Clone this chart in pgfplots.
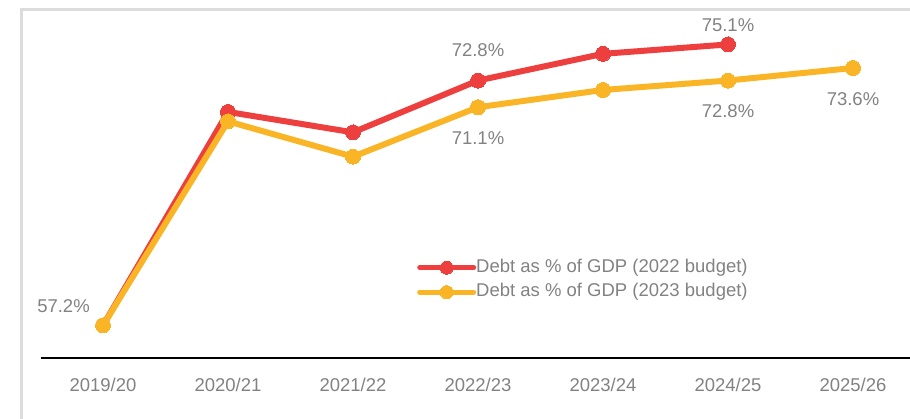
\documentclass[border=0pt]{standalone}
\usepackage{pgfplots}
\pgfplotsset{compat=1.18}
\usepackage{fontspec}
\setmainfont{Liberation Sans}
\definecolor{myred}{HTML}{EE3F3F}
\definecolor{myyellow}{HTML}{FAB526}
\definecolor{txtgray}{HTML}{828282}
\definecolor{framegray}{HTML}{DCDCDC}
\begin{document}
\begin{tikzpicture}[x=1pt,y=1pt]
\path[use as bounding box] (0,0) rectangle (910,419);
\clip (0,0) rectangle (910,419);
\draw[framegray, line width=3.3pt] (21.7,-10) -- (21.7,409.5) -- (930,409.5);
\begin{axis}[
  at={(40.5pt,61pt)}, anchor=south west,
  scale only axis, width=869.5pt, height=350pt,
  xmin=-0.5, xmax=6.456, ymin=55.13, ymax=77.42,
  clip=false,
  axis y line=none,
  axis x line*=bottom,
  x axis line style={black, line width=2.6pt, -},
  xtick={0,...,6},
  xticklabels={2019/20,2020/21,2021/22,2022/23,2023/24,2024/25,2025/26},
  major tick length=0pt,
  xticklabel style={font=\fontsize{18.5}{20}\selectfont, text=txtgray, anchor=base, yshift=-33.5pt},
  legend cell align=left,
  legend image code/.code={%
    \draw[#1, line width=5pt, line cap=round, mark=none] (-3pt,0pt) -- (51pt,0pt);
    \draw[#1, mark size=6.5pt] plot coordinates {(24pt,0pt)};},
  legend style={draw=none, fill=none, inner sep=0pt, at={(0.433,0.283)}, anchor=north west,
    font=\fontsize{18.5}{20}\selectfont, text=txtgray, row sep=7.5pt,
    nodes={inner sep=0pt, text height=13pt, text depth=4pt}},
]
\addplot[myred, line width=6pt, line join=round, mark=*, mark size=7.5pt, mark options={solid, line width=0pt}]
  coordinates {(0,57.2) (1,70.8) (2,69.5) (3,72.8) (4,74.5) (5,75.1)};
\addlegendentry{Debt as \% of GDP (2022 budget)}
\addplot[myyellow, line width=6pt, line join=round, mark=*, mark size=7.5pt, mark options={solid, line width=0pt}]
  coordinates {(0,57.2) (1,70.2) (2,67.95) (3,71.1) (4,72.2) (5,72.8) (6,73.6)};
\addlegendentry{Debt as \% of GDP (2023 budget)}
\begin{scope}[every node/.style={font=\fontsize{18.5}{20}\selectfont, text=txtgray, anchor=base, inner sep=0pt}]
\node at (axis cs:3,72.8) [yshift=24pt] {72.8\%};
\node at (axis cs:5,75.1) [yshift=13pt] {75.1\%};
\node at (axis cs:3,71.1) [yshift=-37pt] {71.1\%};
\node at (axis cs:5,72.8) [yshift=-37pt] {72.8\%};
\node at (axis cs:6,73.6) [yshift=-38pt] {73.6\%};
\node at (axis cs:0,57.2) [xshift=-39.5pt, yshift=13pt] {57.2\%};
\end{scope}
\end{axis}
\end{tikzpicture}
\end{document}
